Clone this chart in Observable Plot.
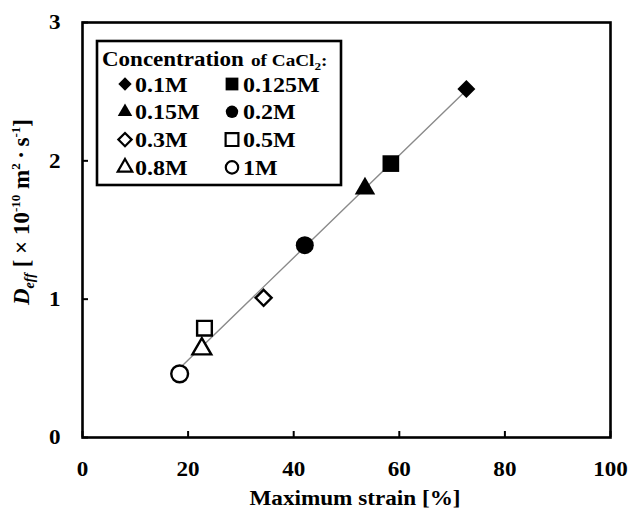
<!DOCTYPE html>
<html>
<head>
<meta charset="utf-8">
<script src="https://cdn.jsdelivr.net/npm/d3@7"></script>
<script src="https://cdn.jsdelivr.net/npm/@observablehq/plot@0.6"></script>
<style>
  html, body { margin: 0; padding: 0; background: #fff; }
  #chart { width: 633px; height: 511px; }
</style>
</head>
<body>
<div id="chart"></div>
<script>
// ---- data ----
const concentration = ["0.1M", "0.125M", "0.15M", "0.2M", "0.3M", "0.5M", "0.8M", "1M"];
const maxStrain = [72.7, 58.4, 53.5, 42.1, 34.3, 23.1, 22.6, 18.4];
const dEff = [2.52, 1.98, 1.80, 1.39, 1.01, 0.79, 0.64, 0.46];
const markerShape = ["diamond", "square", "triangle", "circle", "diamond", "square", "triangle", "circle"];
const markerFilled = [true, true, true, true, false, false, false, false];
const xTicks = [0, 20, 40, 60, 80, 100];
const yTicks = [0, 1, 2, 3];
const xLabel = "Maximum strain [%]";
const legendTitle = "Concentration";

// ---- styles ----
const plotSymbol = {diamond: "diamond2", square: "square", triangle: "triangle", circle: "circle"};
const d3Symbol = {diamond: d3.symbolDiamond2, square: d3.symbolSquare, triangle: d3.symbolTriangle, circle: d3.symbolCircle};
const rFilled = {diamond: 8.1, square: 9.4, triangle: 7.6, circle: 9};
const rOpen = {diamond: 7.2, square: 8.3, triangle: 7.0, circle: 8.4};
const rLegend = {diamond: 6.0, square: 7.2, triangle: 5.4, circle: 6.2};
const serif = "'Liberation Serif', 'Times New Roman', serif";

const rows = concentration.map((c, i) => ({
  c, x: maxStrain[i], y: dEff[i], shape: markerShape[i], filled: markerFilled[i]
}));

const chart = Plot.plot({
  width: 633,
  height: 511,
  marginLeft: 82,
  marginRight: 23,
  marginTop: 22,
  marginBottom: 74,
  x: {domain: [0, 100]},
  y: {domain: [0, 3]},
  r: {type: "identity"},
  style: {fontFamily: serif, fontWeight: "bold", fontSize: "21px", background: "#fff", color: "#000", overflow: "visible"},
  marks: [
    Plot.axisX({ticks: xTicks, tickSize: -6, tickFormat: () => "", label: null, strokeWidth: 2}),
    Plot.axisY({ticks: yTicks, tickSize: -6, tickFormat: () => "", label: null, strokeWidth: 2}),
    Plot.axisX({ticks: xTicks, tickSize: 0, tickPadding: 24, tickFormat: d3.format("d"), label: null, fontSize: 21}),
    Plot.axisY({ticks: yTicks, tickSize: 0, tickPadding: 22, tickFormat: d3.format("d"), label: null, fontSize: 21}),
    Plot.frame({stroke: "#000", strokeWidth: 2.6}),
    Plot.linearRegressionY(rows, {x: "x", y: "y", ci: 0, stroke: "#8a8a8a", strokeWidth: 1.4}),
    Plot.dot(rows.filter(d => d.filled), {
      x: "x", y: "y", symbol: d => plotSymbol[d.shape], r: d => rFilled[d.shape],
      fill: "#000", stroke: "none"
    }),
    Plot.dot(rows.filter(d => !d.filled), {
      x: "x", y: "y", symbol: d => plotSymbol[d.shape], r: d => rOpen[d.shape],
      fill: "#fff", stroke: "#000", strokeWidth: 2.4
    })
  ]
});
document.getElementById("chart").appendChild(chart);

const svg = d3.select(chart);

// widen tick labels slightly (the reference text is horizontally stretched)
svg.selectAll('g[aria-label$="tick label"] text').each(function () {
  const t = d3.select(this);
  const tr = t.attr("transform") || "";
  t.attr("transform", tr + " scale(1.1,1)");
});

// x label
svg.append("text")
  .attr("transform", "translate(355,505) scale(1.16,1)")
  .attr("text-anchor", "middle")
  .style("font-family", serif).style("font-weight", "bold").style("font-size", "20px")
  .text(xLabel);

// y label
const yl = svg.append("text")
  .attr("transform", "translate(29,212) rotate(-90)")
  .attr("text-anchor", "middle")
  .style("font-family", serif).style("font-weight", "bold").style("font-size", "23px");
yl.append("tspan").style("font-style", "italic").text("D");
yl.append("tspan").style("font-style", "italic").style("font-size", "14px").attr("dy", 5).text("eff");
yl.append("tspan").attr("dy", -5).text(" [ \u00d7 10");
yl.append("tspan").style("font-size", "13px").attr("dy", -9).text("-10");
yl.append("tspan").attr("dy", 9).text(" m");
yl.append("tspan").style("font-size", "13px").attr("dy", -9).text("2");
yl.append("tspan").attr("dy", 9).text("\u2009\u00b7\u2009s");
yl.append("tspan").style("font-size", "13px").attr("dy", -9).text("-1");
yl.append("tspan").attr("dy", 9).text("]");

// legend
const lg = svg.append("g").attr("text-anchor", "start");
lg.append("rect")
  .attr("x", 97).attr("y", 41).attr("width", 244).attr("height", 144)
  .attr("fill", "#fff").attr("stroke", "#000").attr("stroke-width", 2.6);
lg.append("text")
  .attr("text-anchor", "start")
  .attr("transform", "translate(102,66) scale(1.15,1)")
  .style("font-family", serif).style("font-weight", "bold").style("font-size", "20px")
  .text(legendTitle);
const sub = lg.append("text")
  .attr("text-anchor", "start")
  .attr("transform", "translate(251,66) scale(1.2,1)")
  .style("font-family", serif).style("font-weight", "bold").style("font-size", "16px");
sub.append("tspan").text("of CaCl");
sub.append("tspan").style("font-size", "11px").attr("dy", 4).text("2");
sub.append("tspan").attr("dy", -4).text(":");

const colMarkerX = [125, 232];
const colTextX = [135, 243];
const rowY0 = 84, rowStep = 27.8;
rows.forEach((d, i) => {
  const col = i % 2, row = Math.floor(i / 2);
  const cy = rowY0 + row * rowStep;
  const r = rLegend[d.shape];
  lg.append("path")
    .attr("transform", `translate(${colMarkerX[col]},${cy})`)
    .attr("d", d3.symbol(d3Symbol[d.shape], Math.PI * r * r)())
    .attr("fill", d.filled ? "#000" : "#fff")
    .attr("stroke", d.filled ? "none" : "#000")
    .attr("stroke-width", 2.2);
  lg.append("text")
    .attr("text-anchor", "start")
    .attr("transform", `translate(${colTextX[col]},${cy + 7.5}) scale(1.2,1)`)
    .style("font-family", serif).style("font-weight", "bold").style("font-size", "20px")
    .text(d.c);
});
</script>
</body>
</html>
